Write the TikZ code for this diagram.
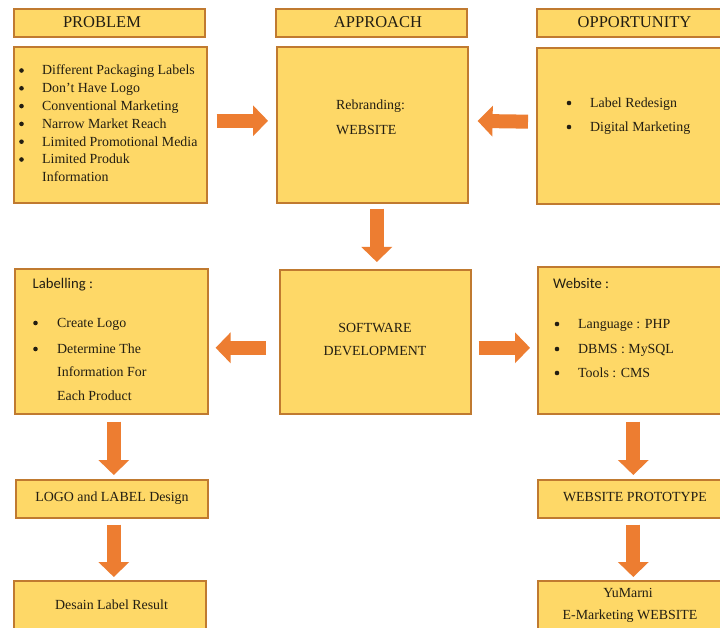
\documentclass[tikz,border=0pt]{standalone}
\usepackage{fontspec}
\setmainfont{Liberation Serif}
\newfontfamily\calib{Carlito}
\usetikzlibrary{arrows.meta}
\definecolor{boxfill}{HTML}{FED867}
\definecolor{boxline}{HTML}{C07A30}
\definecolor{arrowc}{HTML}{ED7D31}
\definecolor{txtc}{HTML}{231E12}
\tikzset{
 box/.style={draw=boxline, fill=boxfill, line width=1.6pt, anchor=north west, inner sep=0pt},
 hd/.style={anchor=base, inner sep=0pt, text=txtc, font=\fontsize{16.5}{18}\selectfont},
 tx/.style={anchor=base west, inner sep=0pt, text=txtc, font=\fontsize{13.9}{16}\selectfont},
 txc/.style={tx, anchor=base},
 sx/.style={tx, font=\calib\fontsize{14.7}{16}\selectfont},
 dot/.style={circle, fill=txtc, inner sep=0pt, minimum size=4.6pt},
 barrow/.style={draw=arrowc, line width=14pt, -{Triangle[width=30pt,length=15pt]}}
}
\begin{document}
\begin{tikzpicture}[x=1pt,y=-1pt]
\useasboundingbox (0,0) rectangle (720,628);
\fill[white] (0,0) rectangle (720,628);
\clip (0,0) rectangle (720,628);
% headers
\node[box, minimum width=191pt, minimum height=28pt] (probH) at (13,8) {};
\node[box, minimum width=191pt, minimum height=28pt] (apprH) at (275,8) {};
\node[box, minimum width=191pt, minimum height=28pt] (oppH) at (536,8) {};
\node[hd] (probHt) at (102,27.5) {PROBLEM};
\node[hd] (apprHt) at (378,27.5) {APPROACH};
\node[hd] (oppHt) at (634.5,27.5) {OPPORTUNITY};
% top row boxes
\node[box, minimum width=193pt, minimum height=156pt] (prob) at (13,46) {};
\node[box, minimum width=191pt, minimum height=156pt] (appr) at (276,46) {};
\node[box, minimum width=191pt, minimum height=156pt] (opp) at (536,47) {};
% middle row
\node[box, minimum width=193pt, minimum height=145pt] (lab) at (14,268) {};
\node[box, minimum width=191pt, minimum height=144pt] (soft) at (279,269) {};
\node[box, minimum width=191pt, minimum height=147pt] (web) at (537,266) {};
% lower boxes
\node[box, minimum width=192pt, minimum height=38pt] (logo) at (15,479) {};
\node[box, minimum width=191pt, minimum height=38pt] (proto) at (537,479) {};
\node[box, minimum width=192pt, minimum height=60pt] (desain) at (13,580) {};
\node[box, minimum width=191pt, minimum height=60pt] (yum) at (537,580) {};
% problem text
\foreach \t [count=\i] in {Different Packaging Labels,Don't Have Logo,Conventional Marketing,Narrow Market Reach,Limited Promotional Media,Limited Produk}{
 \node[dot] (pb\i) at (21.5,{70.5+17.8*(\i-1)}) {};
 \node[tx] (pt\i) at (42,{75+17.8*(\i-1)}) {\t};
}
\node[tx] (pt7) at (42,181.8) {Information};
% approach text
\node[tx] (ap1) at (336,109.5) {Rebranding:};
\node[tx] (ap2) at (336,134.5) {WEBSITE};
% opportunity text
\node[dot] (ob1) at (569,103) {};
\node[tx] (ot1) at (590,107.5) {Label Redesign};
\node[dot] (ob2) at (569,127) {};
\node[tx] (ot2) at (590,131.5) {Digital Marketing};
% labelling text
\node[sx] (lh) at (32.5,289) {Labelling :};
\node[dot] (lb1) at (35.5,323) {};
\node[tx] (lt1) at (57,327.5) {Create Logo};
\node[dot] (lb2) at (35.5,349) {};
\node[tx] (lt2) at (57,353.5) {Determine The};
\node[tx] (lt3) at (57,376.5) {Information For};
\node[tx] (lt4) at (57,400.5) {Each Product};
% software text
\node[txc] (st1) at (375,332.6) {SOFTWARE};
\node[txc] (st2) at (375,355.6) {DEVELOPMENT};
% website text
\node[sx] (wh) at (553,289) {Website :};
\node[dot] (wb1) at (557,324) {};
\node[tx] (wt1) at (578,328.5) {Language : PHP};
\node[dot] (wb2) at (557,349) {};
\node[tx] (wt2) at (578,353.5) {DBMS : MySQL};
\node[dot] (wb3) at (557,373) {};
\node[tx] (wt3) at (578,377.5) {Tools : CMS};
% lower texts
\node[txc] (logot) at (112,501.5) {LOGO and LABEL Design};
\node[txc] (protot) at (635,501.6) {WEBSITE PROTOTYPE};
\node[txc] (desaint) at (111.5,609.5) {Desain Label Result};
\node[txc] (yumt1) at (628,597.5) {YuMarni};
\node[txc] (yumt2) at (630,619.5) {E-Marketing WEBSITE};
% arrows
\draw[barrow, shorten <=9pt, shorten >=8pt] ([yshift=4pt]prob.east) -- ([yshift=4pt]appr.west);
\draw[barrow, shorten <=8pt, shorten >=9pt] ([yshift=4pt]opp.west) -- ([yshift=4pt]appr.east);
\draw[barrow, shorten <=5pt, shorten >=7pt] ([xshift=4.5pt]appr.south) -- ([xshift=1.5pt]soft.north);
\draw[barrow, shorten <=13pt, shorten >=7pt] ([yshift=-6pt]soft.west) -- ([yshift=-6.5pt]lab.east);
\draw[barrow, shorten <=7pt, shorten >=7pt] ([yshift=-6pt]soft.east) -- ([yshift=-6pt]soft.east -| web.west);
\draw[barrow, shorten <=7pt, shorten >=4pt] ([xshift=2.5pt]lab.south) -- ([xshift=2pt]logo.north);
\draw[barrow, shorten <=6pt, shorten >=3pt] ([xshift=2pt]logo.south) -- ([xshift=4pt]desain.north);
\draw[barrow, shorten <=7pt, shorten >=4pt] (web.south) -- (proto.north);
\draw[barrow, shorten <=6pt, shorten >=3pt] (proto.south) -- (yum.north);
\end{tikzpicture}
\end{document}
